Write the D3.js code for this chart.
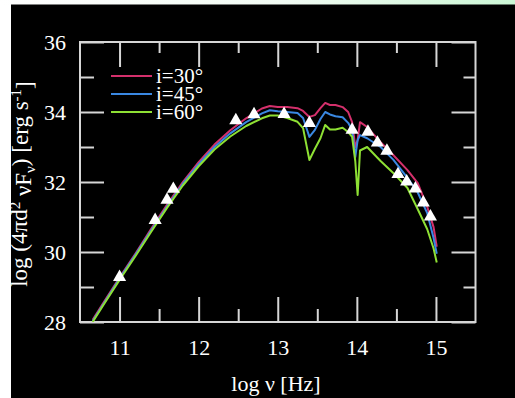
<!DOCTYPE html>
<html>
<head>
<meta charset="utf-8">
<script src="https://cdn.jsdelivr.net/npm/d3@7"></script>
<style>
  html, body { margin: 0; padding: 0; background: #fff; }
  svg { display: block; }
</style>
</head>
<body>
<div id="chart"></div>
<script>
// SED model curves, log nu [Hz] vs log(4 pi d^2 nu F_nu) [erg/s]
const logNu = [10.66, 10.8, 11.0, 11.2, 11.4, 11.6, 11.8, 12.0, 12.2, 12.4, 12.6, 12.8, 12.9, 13.0,
  13.12, 13.25, 13.32, 13.40, 13.47, 13.54, 13.60, 13.66, 13.73, 13.82, 13.89, 13.94, 13.98, 14.01,
  14.04, 14.13, 14.30, 14.46, 14.64, 14.77, 14.89, 14.97, 15.01];
const lum30 = [28.06, 28.56, 29.27, 29.95, 30.66, 31.35, 32.0, 32.57, 33.07, 33.48, 33.82, 34.1, 34.17, 34.14,
  34.14, 34.11, 34.03, 33.86, 33.91, 34.11, 34.26, 34.2, 34.2, 34.14, 34.0, 33.71, 33.0, 33.2,
  33.71, 33.57, 33.14, 32.77, 32.34, 31.97, 31.29, 30.71, 30.15];
const lum45 = [28.03, 28.53, 29.24, 29.92, 30.62, 31.3, 31.95, 32.51, 33.0, 33.39, 33.71, 33.96, 34.05, 34.02,
  34.0, 33.97, 33.83, 33.29, 33.49, 33.8, 34.0, 33.93, 33.88, 33.85, 33.69, 33.49, 32.71, 33.2,
  33.34, 33.25, 33.0, 32.64, 32.12, 31.7, 31.11, 30.4, 29.95];
const lum60 = [28.0, 28.5, 29.2, 29.88, 30.58, 31.26, 31.9, 32.45, 32.93, 33.3, 33.6, 33.82, 33.9, 33.9,
  33.83, 33.72, 33.54, 32.63, 32.95, 33.25, 33.63, 33.5, 33.5, 33.55, 33.43, 33.29, 32.6, 31.63,
  32.9, 33.0, 32.6, 32.26, 31.83, 31.22, 30.65, 30.1, 29.7];

// observed points (triangles)
const obsNu = [11.0, 11.45, 11.6, 11.68, 12.47, 12.7, 13.08, 13.4, 13.94, 14.14, 14.26, 14.38, 14.52, 14.63, 14.74, 14.84, 14.93];
const obsLum = [29.28, 30.91, 31.49, 31.8, 33.76, 33.93, 33.94, 33.68, 33.49, 33.43, 33.12, 32.89, 32.22, 32.01, 31.81, 31.41, 31.01];

const legendLabels = ["i=30°", "i=45°", "i=60°"];
const seriesColors = ["#d4306c", "#3a88e2", "#8ee034"];
const xMajor = [11, 12, 13, 14, 15];
const xMinor = [11.5, 12.5, 13.5, 14.5];
const yMajor = [28, 30, 32, 34, 36];
const yMinor = [29, 31, 33, 35];

const W = 515, H = 398;
const frame = {left: 80, right: 475.5, top: 42, bottom: 322};
const fontFam = "'Liberation Serif', 'DejaVu Serif', serif";
const axisColor = "#d6d6d6";

const svg = d3.select("#chart").append("svg")
  .attr("width", W).attr("height", H);

// page background: white margin with pale green gradient on top, black panel
const defs = svg.append("defs");
const grad = defs.append("linearGradient").attr("id", "topGrad");
grad.append("stop").attr("offset", "0%").attr("stop-color", "#ffffff");
grad.append("stop").attr("offset", "55%").attr("stop-color", "#f2fcf4");
grad.append("stop").attr("offset", "100%").attr("stop-color", "#ccf7d6");
svg.append("rect").attr("width", W).attr("height", H).attr("fill", "#fff");
svg.append("rect").attr("width", W).attr("height", 5).attr("fill", "url(#topGrad)");
svg.append("rect").attr("x", 11).attr("y", 4.5).attr("width", W - 11).attr("height", H - 4.5).attr("fill", "#000");

const x = d3.scaleLinear().domain([10.5, 15.5]).range([frame.left, frame.right]);
const y = d3.scaleLinear().domain([28, 36]).range([frame.bottom, frame.top]);

defs.append("clipPath").attr("id", "plotClip").append("rect")
  .attr("x", frame.left).attr("y", frame.top)
  .attr("width", frame.right - frame.left).attr("height", frame.bottom - frame.top);

// ticks, drawn inward on all four sides
function tickAxis(axisFn, scale, values, len, pos) {
  const g = svg.append("g").attr("transform", pos)
    .call(axisFn(scale).tickValues(values).tickSize(-len).tickFormat(""));
  g.select(".domain").remove();
  g.selectAll(".tick line").attr("stroke", axisColor).attr("stroke-width", 2);
  return g;
}
tickAxis(d3.axisBottom, x, xMajor, 25, `translate(0,${frame.bottom})`);
tickAxis(d3.axisBottom, x, xMinor, 13, `translate(0,${frame.bottom})`);
tickAxis(d3.axisTop, x, xMajor, 25, `translate(0,${frame.top})`);
tickAxis(d3.axisTop, x, xMinor, 11, `translate(0,${frame.top})`);
tickAxis(d3.axisLeft, y, yMajor, 24, `translate(${frame.left},0)`);
tickAxis(d3.axisLeft, y, yMinor, 14, `translate(${frame.left},0)`);
tickAxis(d3.axisRight, y, yMajor, 24, `translate(${frame.right},0)`);
tickAxis(d3.axisRight, y, yMinor, 12, `translate(${frame.right},0)`);

// tick labels
const xLab = svg.append("g").attr("transform", `translate(0,${frame.bottom})`)
  .call(d3.axisBottom(x).tickValues(xMajor).tickSize(0).tickPadding(17).tickFormat(d3.format("d")));
xLab.select(".domain").remove();
xLab.selectAll("text").attr("fill", "#fff").style("font", `22px ${fontFam}`);

const yLab = svg.append("g").attr("transform", `translate(${frame.left},0)`)
  .call(d3.axisLeft(y).tickValues(yMajor).tickSize(0).tickPadding(14).tickFormat(d3.format("d")));
yLab.select(".domain").remove();
yLab.selectAll("text").attr("fill", "#fff").style("font", `22px ${fontFam}`);

// frame
svg.append("rect")
  .attr("x", frame.left).attr("y", frame.top)
  .attr("width", frame.right - frame.left).attr("height", frame.bottom - frame.top)
  .attr("fill", "none").attr("stroke", axisColor).attr("stroke-width", 2);

// model curves
const series = [lum30, lum45, lum60];
const line = d3.line().x(d => x(d[0])).y(d => y(d[1]));
const curves = svg.append("g").attr("clip-path", "url(#plotClip)");
series.forEach((vals, i) => {
  curves.append("path")
    .datum(logNu.map((v, k) => [v, vals[k]]))
    .attr("d", line)
    .attr("fill", "none")
    .attr("stroke", seriesColors[i])
    .attr("stroke-width", 2)
    .attr("stroke-linejoin", "round");
});

// observations
svg.append("g").selectAll("path")
  .data(obsNu.map((v, k) => [v, obsLum[k]]))
  .join("path")
  .attr("d", d3.symbol(d3.symbolTriangle, 75))
  .attr("transform", d => `translate(${x(d[0])},${y(d[1])})`)
  .attr("fill", "#fff");

// legend
const legend = svg.append("g");
legendLabels.forEach((lab, i) => {
  const ly = 76 + i * 18;
  legend.append("line")
    .attr("x1", 111).attr("x2", 152).attr("y1", ly).attr("y2", ly)
    .attr("stroke", seriesColors[i]).attr("stroke-width", 2);
  legend.append("text")
    .attr("x", 156).attr("y", ly + 7)
    .attr("fill", "#fff")
    .style("font", `21px ${fontFam}`)
    .text(lab);
});

// axis titles
svg.append("text")
  .attr("x", 276).attr("y", 391)
  .attr("text-anchor", "middle")
  .attr("fill", "#fff")
  .style("font", `22px ${fontFam}`)
  .text("log ν [Hz]");

const yt = svg.append("text")
  .attr("transform", "translate(27,184) rotate(-90)")
  .attr("text-anchor", "middle")
  .attr("fill", "#fff")
  .style("font", `23px ${fontFam}`);
yt.append("tspan").text("log (4πd");
yt.append("tspan").attr("dy", "-0.45em").style("font-size", "15px").text("2");
yt.append("tspan").attr("dy", "0.45em").text(" νF");
yt.append("tspan").attr("dy", "0.3em").style("font-size", "15px").text("ν");
yt.append("tspan").attr("dy", "-0.3em").text(") [erg s");
yt.append("tspan").attr("dy", "-0.45em").style("font-size", "15px").text("-1");
yt.append("tspan").attr("dy", "0.45em").text("]");
</script>
</body>
</html>
